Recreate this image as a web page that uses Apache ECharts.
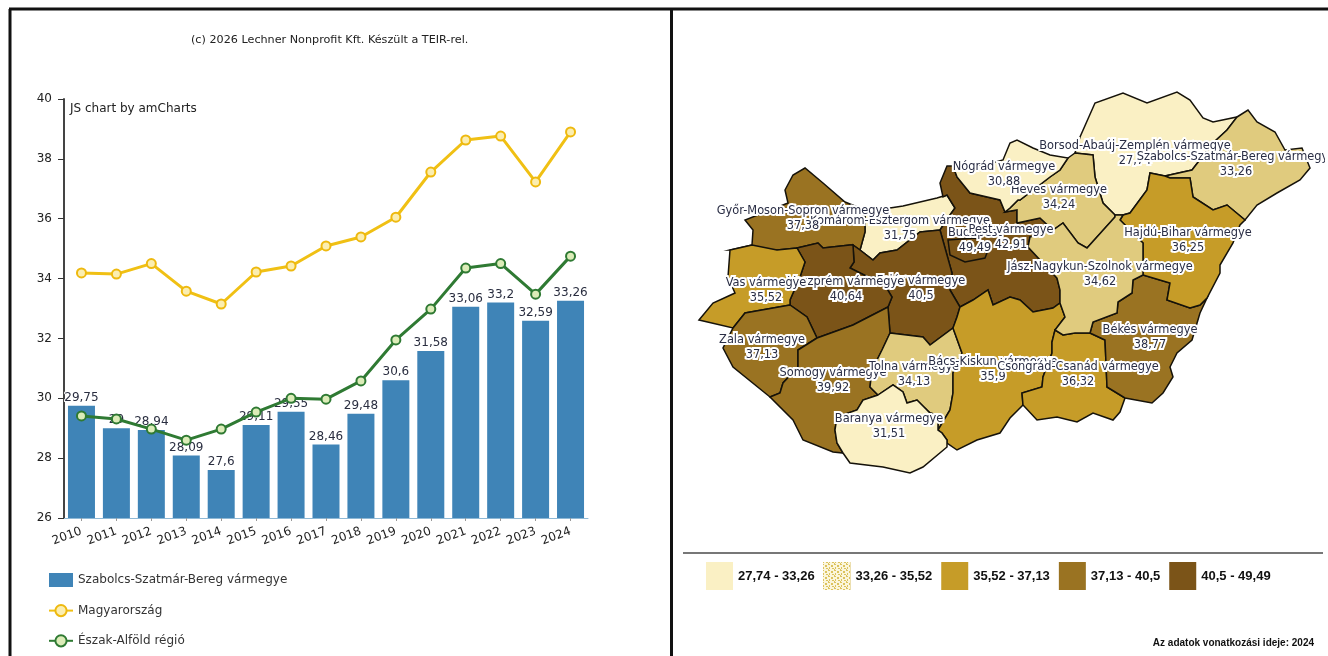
<!DOCTYPE html>
<html><head><meta charset="utf-8">
<style>html,body{margin:0;padding:0;background:#fff;overflow:hidden}#c{width:1328px;height:656px}</style>
<script src="https://cdn.jsdelivr.net/npm/echarts@6/dist/echarts.min.js"></script>
</head><body><div id="c"></div>
<script>
const years=['2010','2011','2012','2013','2014','2015','2016','2017','2018','2019','2020','2021','2022','2023','2024'];
const countyValues=[29.75,29,28.94,28.09,27.6,29.11,29.55,28.46,29.48,30.6,31.58,33.06,33.2,32.59,33.26];
const hungaryValues=[34.19,34.15,34.5,33.58,33.15,34.22,34.42,35.09,35.39,36.05,37.56,38.63,38.76,37.23,38.9];
const regionValues=[29.41,29.31,28.97,28.6,28.97,29.54,30,29.97,30.58,31.95,32.98,34.35,34.5,33.48,34.75];
const seriesNames=['Szabolcs-Szatmár-Bereg vármegye','Magyarország','Észak-Alföld régió'];
const mapNames=['Komárom-Esztergom vármegye','Győr-Moson-Sopron vármegye','Budapest','Pest vármegye','Fejér vármegye','Veszprém vármegye','Vas vármegye','Zala vármegye','Somogy vármegye','Tolna vármegye','Bács-Kiskun vármegye','Csongrád-Csanád vármegye','Békés vármegye','Baranya vármegye','Borsod-Abaúj-Zemplén vármegye','Szabolcs-Szatmár-Bereg vármegye','Heves vármegye','Nógrád vármegye','Hajdú-Bihar vármegye','Jász-Nagykun-Szolnok vármegye'];
const mapValueTexts=['31,75','37,38','49,49','42,91','40,5','40,64','35,52','37,13','39,92','34,13','35,9','36,32','38,77','31,51','27,74','33,26','34,24','30,88','36,25','34,62'];
const classBreaks=[27.74,33.26,35.52,37.13,40.5,49.49];
const classLabels=['27,74 - 33,26','33,26 - 35,52','35,52 - 37,13','37,13 - 40,5','40,5 - 49,49'];
const classColors=['#faf0c4','#e0cb7e','#c69c28','#9a7322','#7b5418'];
const chartTitle='(c) 2026 Lechner Nonprofit Kft. Készült a TEIR-rel.';
const creditText='JS chart by amCharts';
const dateNote='Az adatok vonatkozási ideje: 2024';
// Map geometry: outline rings and label anchors per county
const budapestRing=[[948,240],[975,238],[990,245],[985,258],[965,262],[950,255]];
const mapOutlines={
'Komárom-Esztergom vármegye':[[865,210],[890,208],[903,206],[937,198],[947,195],[955,208],[950,215],[940,230],[920,232],[897,250],[880,253],[873,260],[860,250],[865,232]],
'Győr-Moson-Sopron vármegye':[[730,250],[752,245],[753,230],[745,220],[788,203],[785,190],[793,175],[805,168],[823,183],[845,202],[865,210],[865,232],[860,250],[853,245],[850,245],[823,248],[818,243],[797,248],[777,250]],
'Budapest':budapestRing,
'Pest vármegye':[[947,195],[943,197],[940,183],[947,166],[953,166],[957,177],[970,193],[1000,200],[1005,212],[1017,210],[1017,223],[1040,218],[1053,230],[1030,237],[1028,247],[1057,278],[1060,290],[1060,303],[1053,308],[1033,312],[1020,300],[1010,297],[993,305],[988,290],[973,300],[960,307],[950,290],[952,273],[940,230],[950,215],[955,208]],
'Fejér vármegye':[[853,245],[860,250],[873,260],[880,253],[897,250],[920,232],[940,230],[952,273],[950,290],[960,307],[957,317],[953,328],[930,345],[923,337],[890,333],[888,307],[892,297],[880,277],[868,277],[850,268],[854,262]],
'Veszprém vármegye':[[797,248],[818,243],[823,248],[850,245],[853,245],[854,262],[850,268],[868,277],[880,277],[892,297],[888,307],[853,325],[817,338],[807,317],[790,305],[790,300],[800,277],[805,262]],
'Vas vármegye':[[699,320],[713,303],[735,293],[728,277],[730,250],[752,245],[777,250],[797,248],[805,262],[800,277],[790,300],[790,305],[745,313],[733,328]],
'Zala vármegye':[[733,328],[745,313],[790,305],[807,317],[817,338],[798,350],[798,367],[783,383],[780,393],[770,397],[733,367],[723,348]],
'Somogy vármegye':[[817,338],[853,325],[888,307],[890,333],[882,350],[872,370],[870,387],[878,395],[863,400],[857,410],[837,417],[835,430],[837,443],[843,453],[833,452],[803,440],[793,420],[770,397],[780,393],[783,383],[798,367],[798,350]],
'Tolna vármegye':[[890,333],[923,337],[930,345],[953,328],[962,353],[953,373],[953,393],[950,410],[938,430],[938,415],[930,413],[917,400],[907,403],[903,392],[893,385],[878,395],[870,387],[872,370],[882,350]],
'Bács-Kiskun vármegye':[[953,328],[957,317],[960,307],[973,300],[988,290],[993,305],[1010,297],[1020,300],[1033,312],[1053,308],[1060,303],[1065,317],[1055,330],[1052,342],[1052,353],[1043,377],[1042,387],[1022,393],[1023,405],[1010,418],[1000,433],[977,440],[957,450],[947,443],[947,440],[942,433],[938,430],[950,410],[953,393],[953,373],[962,353]],
'Csongrád-Csanád vármegye':[[1055,330],[1063,335],[1075,333],[1090,333],[1105,340],[1107,387],[1125,398],[1120,412],[1113,420],[1093,413],[1077,422],[1057,417],[1037,420],[1023,405],[1022,393],[1042,387],[1043,377],[1052,353],[1052,342]],
'Békés vármegye':[[1143,275],[1170,283],[1167,300],[1190,308],[1200,305],[1207,298],[1200,313],[1192,340],[1177,353],[1170,367],[1173,377],[1163,393],[1152,403],[1125,398],[1107,387],[1105,340],[1090,333],[1093,322],[1117,313],[1118,302],[1132,293],[1133,280]],
'Baranya vármegye':[[878,395],[893,385],[903,392],[907,403],[917,400],[930,413],[938,415],[938,430],[942,433],[947,440],[947,447],[923,467],[910,473],[883,467],[850,463],[843,453],[837,443],[835,430],[837,417],[857,410],[863,400]],
'Borsod-Abaúj-Zemplén vármegye':[[1075,153],[1080,137],[1095,103],[1123,93],[1147,103],[1177,92],[1190,100],[1203,118],[1213,122],[1237,117],[1227,130],[1213,143],[1192,170],[1165,176],[1150,173],[1147,190],[1130,213],[1123,215],[1115,215],[1103,203],[1095,177],[1093,155]],
'Szabolcs-Szatmár-Bereg vármegye':[[1237,117],[1248,110],[1257,122],[1275,132],[1285,150],[1302,148],[1310,168],[1300,180],[1277,193],[1257,205],[1245,220],[1227,205],[1213,210],[1193,197],[1190,178],[1170,178],[1165,176],[1192,170],[1213,143],[1227,130]],
'Heves vármegye':[[1068,158],[1075,153],[1093,155],[1095,177],[1103,203],[1115,215],[1115,217],[1087,248],[1078,243],[1063,223],[1053,230],[1040,218],[1017,223],[1017,210],[1005,212],[1010,208],[1018,200],[1020,200],[1050,177],[1060,170]],
'Nógrád vármegye':[[953,166],[985,165],[1003,160],[1010,143],[1017,140],[1033,148],[1050,155],[1068,158],[1060,170],[1050,177],[1020,200],[1018,200],[1010,208],[1005,212],[1000,200],[970,193],[957,177]],
'Hajdú-Bihar vármegye':[[1150,173],[1165,176],[1170,178],[1190,178],[1193,197],[1213,210],[1227,205],[1245,220],[1240,225],[1233,243],[1220,265],[1220,273],[1207,298],[1200,305],[1190,308],[1167,300],[1170,283],[1143,275],[1143,243],[1120,220],[1123,215],[1130,213],[1147,190]],
'Jász-Nagykun-Szolnok vármegye':[[1115,217],[1115,215],[1123,215],[1120,220],[1143,243],[1143,275],[1133,280],[1132,293],[1118,302],[1117,313],[1093,322],[1090,333],[1075,333],[1063,335],[1055,330],[1065,317],[1060,303],[1060,290],[1057,278],[1028,247],[1030,237],[1053,230],[1063,223],[1078,243],[1087,248]]
};
const mapAnchors=[[900,229],[803,219],[975,241],[1011,238],[921,289],[846,290],[766,291],[762,348],[833,381],[914,375],[993,370],[1078,375],[1150,338],[889,427],[1135,154],[1236,165],[1059,198],[1004,175],[1188,241],[1100,275]];

const toLonLat=p=>[p[0],-p[1]];
const geojson={type:'FeatureCollection',features:mapNames.map((n,i)=>{
  const rings=[mapOutlines[n].map(toLonLat)];
  if(n==='Pest vármegye') rings.push(budapestRing.map(toLonLat));
  return {type:'Feature',properties:{name:n,cp:toLonLat(mapAnchors[i])},geometry:{type:'Polygon',coordinates:rings}};
})};
echarts.registerMap('hu',geojson);

const comma=v=>String(v).replace('.',',');
const font='"DejaVu Sans"';
const narrow='"Liberation Sans"';
// speckled swatch fill of the second legend class
const sp=document.createElement('canvas');sp.width=sp.height=6;
const sc=sp.getContext('2d');sc.fillStyle='#fbf6dc';sc.fillRect(0,0,6,6);sc.fillStyle='#dcc25e';
[[0,0,2,1],[3,1,2,2],[1,3,1,2],[4,4,2,1],[0,5,1,1]].forEach(r=>sc.fillRect(r[0],r[1],r[2],r[3]));

const line=(x1,y1,x2,y2,color,w)=>({type:'line',silent:true,z:50,shape:{x1,y1,x2,y2},style:{stroke:color,lineWidth:w}});
const text=(x,y,t,f,c,al)=>({type:'text',silent:true,z:50,x,y,style:{text:t,font:f,fill:c,align:al||'left',verticalAlign:'middle'}});

const chart=echarts.init(document.getElementById('c'),null,{renderer:'canvas'});
chart.setOption({
  animation:false,
  backgroundColor:'#fff',
  grid:{left:64,top:99,width:524,height:419,containLabel:false},
  xAxis:{type:'category',data:years,
    axisLine:{show:true,lineStyle:{color:'#8fb9d6',width:1}},
    axisTick:{show:true,alignWithLabel:true,length:3,lineStyle:{color:'#999'}},
    axisLabel:{rotate:20,margin:13,fontFamily:font,fontSize:12,color:'#222',interval:0}},
  yAxis:{type:'value',min:26,max:40,interval:2,
    axisLine:{show:true,lineStyle:{color:'#444',width:2}},
    axisTick:{show:true,length:6,lineStyle:{color:'#333',width:1}},
    axisLabel:{margin:12,fontFamily:font,fontSize:12,color:'#222'},
    splitLine:{show:false}},
  legend:{orient:'vertical',left:43,top:568,itemWidth:24,itemHeight:14,itemGap:17,
    data:[{name:seriesNames[0],icon:'rect'},{name:seriesNames[1]},{name:seriesNames[2]}],selectedMode:false,
    textStyle:{fontFamily:font,fontSize:12,color:'#333'}},
  visualMap:{type:'piecewise',seriesIndex:3,orient:'horizontal',left:691,top:547,
    itemWidth:27,itemHeight:28,itemGap:9,textGap:5,itemSymbol:'rect',selectedMode:false,hoverLink:false,align:'left',
    textStyle:{fontFamily:narrow,fontWeight:'bold',fontSize:13,color:'#111'},
    pieces:classLabels.map((l,i)=>({gte:classBreaks[i],lt:i===4?50:classBreaks[i+1],label:l,color:classColors[i]}))},
  series:[
    {name:seriesNames[0],type:'bar',data:countyValues,barWidth:27,
     itemStyle:{color:'#3f84b7'},
     label:{show:true,position:'top',distance:2,formatter:p=>comma(p.value),fontFamily:font,fontSize:12,color:'#2a2e40',textBorderColor:'#fff',textBorderWidth:2}},
    {name:seriesNames[1],type:'line',data:hungaryValues,symbol:'circle',symbolSize:9,showSymbol:true,
     lineStyle:{color:'#f0c014',width:3},itemStyle:{color:'#fbeeb0',borderColor:'#eeb90f',borderWidth:2}},
    {name:seriesNames[2],type:'line',data:regionValues,symbol:'circle',symbolSize:9,showSymbol:true,
     lineStyle:{color:'#2f7a33',width:3},itemStyle:{color:'#dcecb8',borderColor:'#2f7a33',borderWidth:2}},
    {type:'map',map:'hu',roam:false,aspectScale:1,left:699,top:92,width:611,height:381,silent:true,
     selectedMode:false,showLegendSymbol:false,
     data:mapNames.map((n,i)=>({name:n,value:parseFloat(mapValueTexts[i].replace(',','.')),valueText:mapValueTexts[i]})),
     itemStyle:{borderColor:'#15120a',borderWidth:1.5},
     label:{show:true,formatter:p=>p.name+'\n'+p.data.valueText,fontFamily:font,fontSize:11.4,lineHeight:15,color:'#2a2e45',textBorderColor:'#fff',textBorderWidth:4},
     emphasis:{disabled:true}}
  ],
  graphic:[
    line(10,9,10,656,'#111',3),
    line(9,9,1328,9,'#111',3),
    line(671.5,9,671.5,656,'#111',3),
    line(683,553,1323,553,'#777',2),
    text(191,40,chartTitle,'11.2px '+font,'#222'),
    text(70,109,creditText,'12px '+font,'#222'),
    text(1314,643,dateNote,'bold 10px '+narrow,'#111','right'),
    {type:'rect',silent:true,z:50,shape:{x:823,y:562,width:27,height:28},style:{fill:{image:sp,repeat:'repeat'}}},
    {type:'rect',silent:true,z:50,shape:{x:1325,y:100,width:3,height:100},style:{fill:'#fff'}}
  ]
});
</script></body></html>
